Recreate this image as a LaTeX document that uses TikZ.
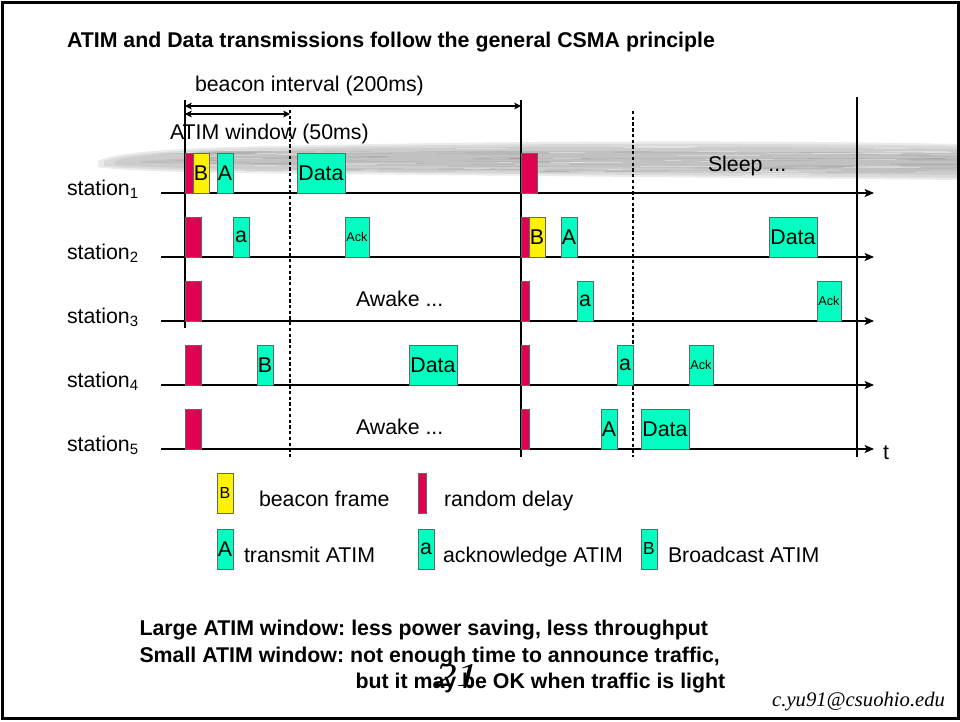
\documentclass[tikz,border=0pt]{standalone}
\usepackage{fontspec}
\setmainfont{Liberation Sans}
\newfontfamily\sigfont{Liberation Serif}
\usetikzlibrary{arrows.meta}
\definecolor{delayred}{RGB}{226,0,80}
\definecolor{beaconyellow}{RGB}{255,242,0}
\definecolor{atimgreen}{RGB}{0,255,192}
\definecolor{bandgray}{RGB}{150,150,150}
\definecolor{banddark}{RGB}{120,120,120}
\newcommand\labelfont{\fontsize{16}{19}\selectfont}
\newcommand\ackfont{\fontsize{9.5}{11}\selectfont}
\frenchspacing

\begin{document}
\begin{tikzpicture}[x=0.75pt,y=-0.75pt,
  txt/.style={inner sep=0pt, outer sep=0pt, anchor=base west, font=\labelfont},
  slotbox/.style={draw=black!60, line width=0.5pt, inner sep=0pt, outer sep=0pt,
    minimum height=30pt, anchor=south west, font=\labelfont},
  delay/.style={slotbox, fill=delayred},
  beacon/.style={slotbox, fill=beaconyellow},
  atim/.style={slotbox, fill=atimgreen},
  w8/.style={minimum width=6pt},
  w16/.style={minimum width=12pt},
  w24/.style={minimum width=18pt},
  w48/.style={minimum width=36pt},
  timeaxis/.style={line width=1.1pt, -{Stealth[length=7pt,width=6pt,inset=1.5pt]}},
  marker/.style={line width=0.8pt},
  window/.style={line width=0.8pt, dash pattern=on 2.5pt off 1.8pt},
  span/.style={line width=1pt, {Stealth[length=5pt,width=5pt,inset=1pt]}-{Stealth[length=5pt,width=5pt,inset=1pt]}},
  brush/.style={fill=bandgray, opacity=0.2}
]
\useasboundingbox (0,0) rectangle (960,721);

% smeared grey brush stroke behind the first station, built up in soft layers
\fill[brush] (98,161) .. controls (120,150) and (200,147) .. (320,145)
  .. controls (520,141) and (760,140) .. (960,144) -- (960,180)
  .. controls (760,178) and (520,176) .. (320,174)
  .. controls (200,173) and (120,171) .. (98,167) -- cycle;
\fill[brush] (104,161) .. controls (130,152) and (200,149) .. (320,147)
  .. controls (520,143) and (760,143) .. (960,146) -- (960,178)
  .. controls (760,176) and (520,174) .. (320,172)
  .. controls (200,171) and (130,169) .. (104,166) -- cycle;
\fill[brush] (115,161) .. controls (140,153) and (210,151) .. (320,149)
  .. controls (520,146) and (760,146) .. (960,149) -- (960,175)
  .. controls (760,173) and (520,172) .. (320,170)
  .. controls (210,169) and (140,167) .. (115,165) -- cycle;
\fill[brush] (140,161) .. controls (250,154) and (400,151) .. (560,151)
  .. controls (750,151) and (880,154) .. (960,155) -- (960,171)
  .. controls (850,170) and (700,168) .. (560,167)
  .. controls (400,166) and (250,165) .. (140,163) -- cycle;
\pgfmathsetseed{42}
\foreach \i in {1,...,80}{
  \pgfmathsetmacro\xa{130+rnd*800}
  \pgfmathsetmacro\len{15+rnd*110}
  \pgfmathsetmacro\yy{150+rnd*22}
  \draw[banddark, opacity=0.12, line width=1pt] (\xa,\yy) -- ++(\len,0);
}
\foreach \i in {1,...,50}{
  \pgfmathsetmacro\xa{130+rnd*800}
  \pgfmathsetmacro\len{10+rnd*80}
  \pgfmathsetmacro\yy{146+rnd*30}
  \draw[white, opacity=0.35, line width=0.7pt] (\xa,\yy) -- ++(\len,0);
}

% interval markers
\coordinate (m0t) at (185,100); \coordinate (m0b) at (185,328);
\coordinate (m1t) at (521,100); \coordinate (m1b) at (521,457);
\coordinate (m2t) at (857,97);  \coordinate (m2b) at (857,457);
\coordinate (d0t) at (290,110); \coordinate (d0b) at (290,457);
\coordinate (d1t) at (633,111); \coordinate (d1b) at (633,457);
\draw[marker] (m0t) -- (m0b);
\draw[marker] (m1t) -- (m1b);
\draw[marker] (m2t) -- (m2b);
\draw[window] (d0t) -- (d0b);
\draw[window] (d1t) -- (d1b);

% interval spans
\coordinate (bi-l) at (185,106); \coordinate (bi-r) at (521,106);
\coordinate (aw-l) at (185,114); \coordinate (aw-r) at (290,114);
\draw[span] (bi-l) -- (bi-r);
\draw[span] (aw-l) -- (aw-r);
\node[txt] (bilabel) at (195,91) {beacon interval (200ms)};
\node[txt] (awlabel) at (170,139) {ATIM window (50ms)};

% time axes
\foreach \k/\y in {1/193,2/257,3/321,4/385,5/449}{
  \coordinate (s\k-start) at (161,\y);
  \coordinate (s\k-end) at (874,\y);
  \draw[timeaxis] (s\k-start) -- (s\k-end);
  \node[txt] (s\k-label) at (67,\y+2) {station\textsubscript{\k}};
}
\node[txt] (tlabel) at (883,459) {t};

% station 1
\node[delay,w8]   (s1-d1) at (185,193) {};
\node[beacon,w16] (s1-b)  at (193,193) {B};
\node[atim,w16]   (s1-A)  at (217,193) {A};
\node[atim,w48]   (s1-D)  at (297,193) {Data};
\node[delay,w16]  (s1-d2) at (521,193) {};
\node[txt] (sleep) at (708,171) {Sleep ...};

% station 2
\node[delay,w16]  (s2-d1) at (185,257) {};
\node[atim,w16]   (s2-a)  at (233,257) {a};
\node[atim,w24,font=\ackfont] (s2-ack) at (345,257) {Ack};
\node[delay,w8]   (s2-d2) at (521,257) {};
\node[beacon,w16] (s2-b)  at (529,257) {B};
\node[atim,w16]   (s2-A)  at (561,257) {A};
\node[atim,w48]   (s2-D)  at (769,257) {Data};

% station 3
\node[delay,w16]  (s3-d1) at (185,321) {};
\node[delay,w8]   (s3-d2) at (521,321) {};
\node[atim,w16]   (s3-a)  at (577,321) {a};
\node[atim,w24,font=\ackfont] (s3-ack) at (817,321) {Ack};
\node[txt] (awake3) at (356,306) {Awake ...};

% station 4
\node[delay,w16]  (s4-d1) at (185,385) {};
\node[atim,w16]   (s4-B)  at (257,385) {B};
\node[atim,w48]   (s4-D)  at (409,385) {Data};
\node[delay,w8]   (s4-d2) at (521,385) {};
\node[atim,w16]   (s4-a)  at (617,385) {a};
\node[atim,w24,font=\ackfont] (s4-ack) at (689,385) {Ack};

% station 5
\node[delay,w16]  (s5-d1) at (185,449) {};
\node[delay,w8]   (s5-d2) at (521,449) {};
\node[atim,w16]   (s5-A)  at (601,449) {A};
\node[atim,w48]   (s5-D)  at (641,449) {Data};
\node[txt] (awake5) at (356,434) {Awake ...};

% legend
\node[beacon,w16,font=\fontsize{12}{14}\selectfont] (lg-b) at (217,513) {B};
\node[txt] (lg-btext) at (259,506) {beacon frame};
\node[delay,w8] (lg-d) at (418,513) {};
\node[txt] (lg-dtext) at (444,506) {random delay};
\node[atim,w16] (lg-A) at (217,569) {A};
\node[txt] (lg-Atext) at (244,562) {transmit ATIM};
\node[atim,w16] (lg-a) at (418,569) {a};
\node[txt] (lg-atext) at (443,562) {acknowledge ATIM};
\node[atim,w16,font=\fontsize{13}{15}\selectfont] (lg-B) at (641,569) {B};
\node[txt] (lg-Btext) at (668,562) {Broadcast ATIM};

% headline and remarks
\node[txt, font=\labelfont\bfseries] (title) at (67,47)
  {ATIM and Data transmissions follow the general CSMA principle};
\node[txt, font=\labelfont\bfseries] (large) at (139.5,635)
  {Large ATIM window: less power saving, less throughput};
\node[txt, font=\labelfont\bfseries] (small) at (139.5,662)
  {Small ATIM window: not enough time to announce traffic,};
\node[txt, font=\labelfont\bfseries] (small2) at (355.5,688)
  {but it may be OK when traffic is light};
\node[txt, font=\sigfont\itshape\fontsize{25}{28}\selectfont] (pageno) at (435,686) {\scalebox{1.3}[1]{21}};
\node[inner sep=0pt, outer sep=0pt, anchor=base east, font=\sigfont\itshape\fontsize{15.5}{18}\selectfont]
  (mail) at (945,706) {c.yu91@csuohio.edu};

% slide frame
\draw[line width=2.25pt] (2.5,2.5) rectangle (958.5,718.5);
\end{tikzpicture}
\end{document}
